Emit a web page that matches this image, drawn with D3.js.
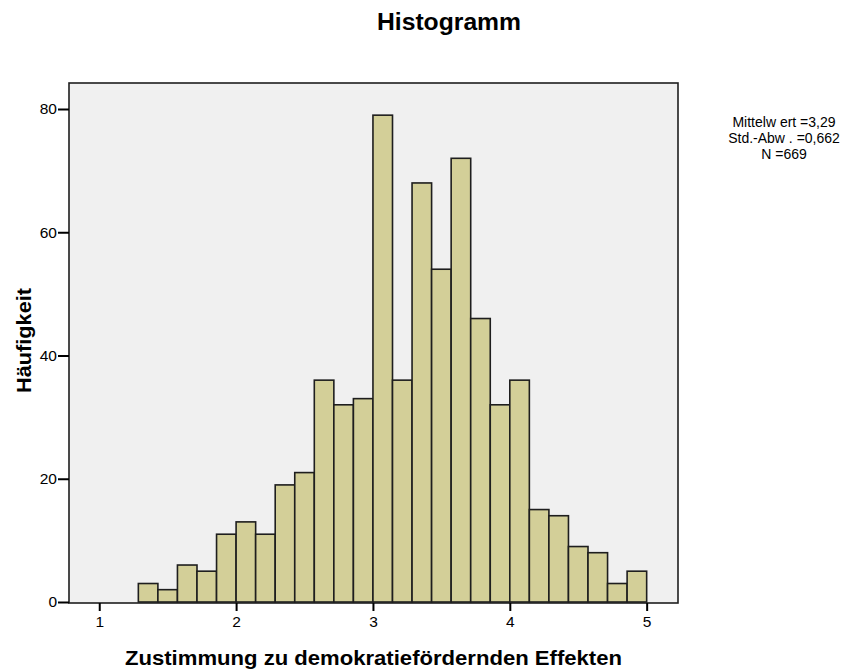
<!DOCTYPE html>
<html lang="de">
<head>
<meta charset="utf-8">
<title>Histogramm</title>
<script src="https://d3js.org/d3.v7.min.js"></script>
<style>
  body { margin: 0; background: #fff; }
  text { font-family: "Liberation Sans", Arial, sans-serif; }
</style>
</head>
<body>
<script>
// bins of width 1/7, starting at 9/7
var binStart = 9 / 7;
var binWidth = 1 / 7;
var counts = [3, 2, 6, 5, 11, 13, 11, 19, 21, 36, 32, 33, 79, 36, 68, 54, 72, 46, 32, 36, 15, 14, 9, 8, 3, 5];
var xTicks = [1, 2, 3, 4, 5];
var yTicks = [0, 20, 40, 60, 80];
var statLines = ["Mittelw ert =3,29", "Std.-Abw . =0,662", "N =669"];

var w = 854, h = 671;
var plot = {left: 69, top: 83, right: 678, bottom: 603};

var svg = d3.select("body").append("svg")
  .attr("width", w)
  .attr("height", h);

var x = d3.scaleLinear()
  .domain([0.779, 5.229])
  .range([plot.left, plot.right]);
var y = d3.scaleLinear()
  .domain([0, 80])
  .range([602, 109]);

// plot background
svg.append("rect")
  .attr("x", plot.left).attr("y", plot.top)
  .attr("width", plot.right - plot.left)
  .attr("height", plot.bottom - plot.top)
  .attr("fill", "#f0f0f0");

// bars
svg.selectAll("rect.bar")
  .data(counts)
  .enter().append("rect")
  .attr("class", "bar")
  .attr("x", (d, i) => x(binStart + i * binWidth))
  .attr("width", (d, i) => x(binStart + (i + 1) * binWidth) - x(binStart + i * binWidth))
  .attr("y", d => y(d))
  .attr("height", d => y(0) - y(d))
  .attr("fill", "#d3cf98")
  .attr("stroke", "#1e1e1e")
  .attr("stroke-width", 1.6);

// frame
svg.append("rect")
  .attr("x", plot.left).attr("y", plot.top)
  .attr("width", plot.right - plot.left)
  .attr("height", plot.bottom - plot.top)
  .attr("fill", "none")
  .attr("stroke", "#1e1e1e")
  .attr("stroke-width", 1.6);

// axes
var yAxis = d3.axisLeft(y).tickValues(yTicks).tickSize(11).tickPadding(1);
var gy = svg.append("g")
  .attr("transform", `translate(${plot.left},0)`)
  .call(yAxis);
gy.select(".domain").remove();

var xAxis = d3.axisBottom(x).tickValues(xTicks).tickFormat(d3.format("d"))
  .tickSize(8).tickPadding(5);
var gx = svg.append("g")
  .attr("transform", `translate(0,${plot.bottom})`)
  .call(xAxis);
gx.select(".domain").remove();

svg.selectAll(".tick line").attr("stroke", "#000").attr("stroke-width", 2);
svg.selectAll(".tick text")
  .attr("fill", "#000")
  .style("font-size", "15.5px")
  .style("font-family", "'Liberation Sans', Arial, sans-serif");

// titles
svg.append("text")
  .attr("x", 449).attr("y", 30)
  .attr("text-anchor", "middle")
  .attr("textLength", 144).attr("lengthAdjust", "spacingAndGlyphs")
  .style("font-size", "23px").style("font-weight", "bold")
  .text("Histogramm");

svg.append("text")
  .attr("x", 373.5).attr("y", 665)
  .attr("text-anchor", "middle")
  .attr("textLength", 497).attr("lengthAdjust", "spacingAndGlyphs")
  .style("font-size", "20px").style("font-weight", "bold")
  .text("Zustimmung zu demokratiefördernden Effekten");

svg.append("text")
  .attr("transform", "translate(31,340.5) rotate(-90)")
  .attr("text-anchor", "middle")
  .attr("textLength", 105).attr("lengthAdjust", "spacingAndGlyphs")
  .style("font-size", "21px").style("font-weight", "bold")
  .text("Häufigkeit");

// stats box
svg.selectAll("text.stat")
  .data(statLines)
  .enter().append("text")
  .attr("class", "stat")
  .attr("x", 784)
  .attr("y", (d, i) => 127 + i * 16)
  .attr("text-anchor", "middle")
  .style("font-size", "14px")
  .text(d => d);
</script>
</body>
</html>
